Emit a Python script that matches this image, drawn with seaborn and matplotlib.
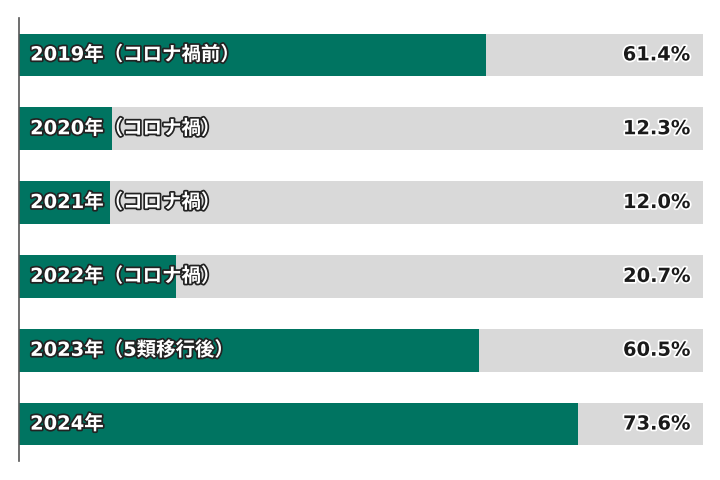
import matplotlib
matplotlib.use("Agg")
import matplotlib.pyplot as plt
import matplotlib.patheffects as pe
import seaborn as sns
import pandas as pd

categories = ["2019年（コロナ禍前）", "2020年（コロナ禍）", "2021年（コロナ禍）",
              "2022年（コロナ禍）", "2023年（5類移行後）", "2024年"]
values = [61.4, 12.3, 12.0, 20.7, 60.5, 73.6]
axis_max = 90

sns.set_theme(style="white")
plt.rcParams['font.family'] = ['DejaVu Sans', 'Noto Sans CJK JP']

df = pd.DataFrame({"cat": categories, "val": values, "bg": [axis_max] * len(values)})

fig = plt.figure(figsize=(7.2, 4.8), dpi=100)
ax = fig.add_axes([19/720, 19/480, 684/720, 443/480])

sns.barplot(data=df, y="cat", x="bg", color="#D9D9D9", width=0.58, ax=ax,
            saturation=1, orient="h", linewidth=0)
sns.barplot(data=df, y="cat", x="val", color="#007461", width=0.58, ax=ax,
            saturation=1, orient="h", linewidth=0)

ax.set_xlim(0, axis_max)
ax.set_ylim(5.5, -0.5)
ax.set_xlabel("")
ax.set_ylabel("")
ax.set_xticks([])
ax.set_yticks([])
for s in ["top", "right", "bottom"]:
    ax.spines[s].set_visible(False)
ax.spines["left"].set_color("#555555")
ax.spines["left"].set_linewidth(1.2)

for i, (c, v) in enumerate(zip(categories, values)):
    ax.annotate(c, xy=(0, i), xytext=(8, 0), textcoords="offset points",
                ha="left", va="center", color="white", fontsize=14, fontweight="bold",
                path_effects=[pe.withStroke(linewidth=2.5, foreground="#222222")])
    ax.annotate(f"{v:.1f}%", xy=(axis_max, i), xytext=(-9, 0), textcoords="offset points",
                ha="right", va="center", color="#1a1a1a", fontsize=14, fontweight="bold",
                path_effects=[pe.withStroke(linewidth=2.5, foreground="white")])

fig.savefig("out.png", dpi=100)
